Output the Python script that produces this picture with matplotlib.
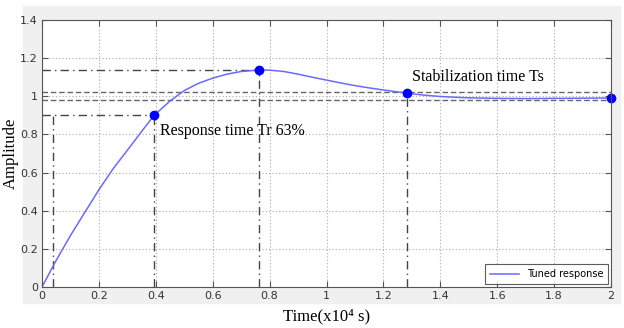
import matplotlib.pyplot as plt
from matplotlib.patches import Rectangle

# step response (time in x10^4 s)
t = [0, 0.05, 0.1, 0.15, 0.2, 0.25, 0.3, 0.35, 0.394, 0.45, 0.5, 0.55, 0.6,
     0.65, 0.7, 0.763, 0.8, 0.85, 0.9, 0.95, 1.0, 1.05, 1.1, 1.15, 1.2, 1.25,
     1.283, 1.3, 1.35, 1.4, 1.45, 1.5, 1.6, 1.7, 1.8, 1.9, 2.0]
amp = [0, 0.14, 0.27, 0.39, 0.51, 0.62, 0.717, 0.815, 0.90, 0.975, 1.03,
       1.068, 1.095, 1.116, 1.13, 1.138, 1.137, 1.13, 1.116, 1.1, 1.085,
       1.07, 1.056, 1.044, 1.033, 1.023, 1.017, 1.013, 1.005, 0.999, 0.995,
       0.992, 0.989, 0.988, 0.989, 0.99, 0.991]

# marked points: Tr, peak, Ts, end
mark_t = [0.394, 0.763, 1.283, 2.0]
mark_a = [0.90, 1.138, 1.017, 0.991]

band = [0.98, 1.02]
t10 = 0.039

xticks = [0, 0.2, 0.4, 0.6, 0.8, 1.0, 1.2, 1.4, 1.6, 1.8, 2.0]
xlabels = ['0', '0.2', '0.4', '0.6', '0.8', '1', '1.2', '1.4', '1.6', '1.8', '2']
yticks = [0, 0.2, 0.4, 0.6, 0.8, 1.0, 1.2, 1.4]
ylabels = ['0', '0.2', '0.4', '0.6', '0.8', '1', '1.2', '1.4']

fig = plt.figure(figsize=(6.24, 3.28), dpi=100)
bg = Rectangle((23 / 624, 25 / 328), 597 / 624, 297 / 328,
               transform=fig.transFigure, color='#f0f0f0', zorder=-5)
fig.add_artist(bg)
ax = fig.add_axes([42 / 624, 41 / 328, 569 / 624, 267 / 328])

ax.set_xlim(0, 2)
ax.set_ylim(0, 1.4)
ax.set_xticks(xticks)
ax.set_xticklabels(xlabels)
ax.set_yticks(yticks)
ax.set_yticklabels(ylabels)
ax.tick_params(direction='in', top=True, right=True, labelsize=8,
               labelcolor='#333333', color='#555555', length=4, pad=3)
ax.grid(True, linestyle=(0, (1, 2)), color='#aaaaaa', linewidth=0.8)
for s in ax.spines.values():
    s.set_color('#555555')

dd = dict(color='#444444', linestyle=(0, (6, 3, 1, 3)), linewidth=1)
# verticals from the marked points down to the axis
ax.plot([t10, t10], [0, mark_a[0]], **dd)
for x, y in zip(mark_t[:3], mark_a[:3]):
    ax.plot([x, x], [0, y], **dd)
# horizontals from the axis to Tr and peak
ax.plot([0, mark_t[0]], [mark_a[0]] * 2, **dd)
ax.plot([0, mark_t[1]], [mark_a[1]] * 2, **dd)
# tolerance band
for b in band:
    ax.plot([0, 2], [b, b], color='#666666', linestyle=(0, (4, 2)), linewidth=1)

ax.plot(t, amp, color='#6a6aff', linewidth=1.1, label='Tuned response')
ax.plot(mark_t, mark_a, 'o', color='#0000ff', markersize=6, clip_on=False)

ax.text(0.415, 0.82, 'Response time Tr 63%', family='Liberation Serif',
        fontsize=11.5, va='center', ha='left')
ax.text(1.3, 1.10, 'Stabilization time Ts', family='Liberation Serif',
        fontsize=11.5, va='center', ha='left')

leg = ax.legend(loc='lower right', fontsize=7, frameon=True, fancybox=False,
                handlelength=3, borderpad=0.5, borderaxespad=0.3)
leg.get_frame().set_edgecolor('#333333')
leg.get_frame().set_linewidth(0.8)

ax.set_xlabel('Time(x10⁴ s)', family='Liberation Serif', fontsize=12, labelpad=5)
ax.set_ylabel('Amplitude', family='Liberation Serif', fontsize=12, va='center')
ax.yaxis.set_label_coords(-0.055, 0.5)

fig.savefig('out.png', dpi=100)
